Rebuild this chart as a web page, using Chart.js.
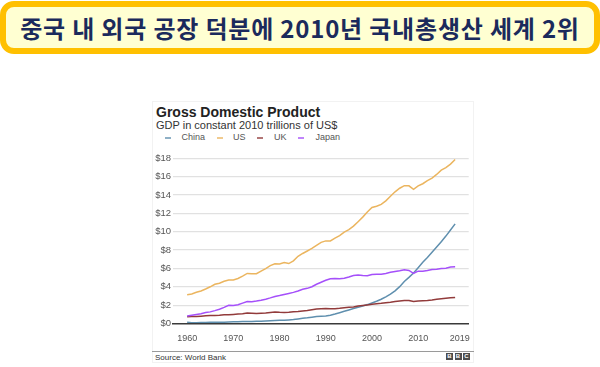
<!DOCTYPE html>
<html>
<head>
<meta charset="utf-8">
<script src="https://cdn.jsdelivr.net/npm/chart.js@4"></script>
<style>
  html, body { margin: 0; padding: 0; background: #fff; }
  body { width: 600px; height: 367px; position: relative; overflow: hidden; font-family: "Liberation Sans", Arial, sans-serif; }
  #banner { position: absolute; left: 0; top: 1px; width: 600px; height: 53px; box-sizing: border-box;
    border: 6px solid #FFC000; border-radius: 14px; background: #FFFFD2;
    display: flex; align-items: center; justify-content: center;
    font-family: "Noto Sans CJK KR", sans-serif; font-weight: 700; font-size: 24px; letter-spacing: 0.8px; color: #1b2a5c; white-space: nowrap; }
  #box { position: absolute; left: 152px; top: 101px; width: 322px; height: 262px; box-sizing: border-box; border: 1px solid #f2f2f2; }
  .t { position: absolute; white-space: nowrap; }
  #title { left: 156px; top: 104.6px; font-size: 14px; line-height: 14px; font-weight: 700; color: #222; }
  #subtitle { left: 156px; top: 119.7px; font-size: 11px; line-height: 11px; color: #333; }
  .lg { position: absolute; top: 132.9px; font-size: 9px; line-height: 9px; color: #555; white-space: nowrap; }
  .dash { position: absolute; top: 136.5px; width: 6px; height: 2px; }
  #sep { position: absolute; left: 152px; top: 351px; width: 322px; height: 1px; background: #9a9a9a; }
  #source { left: 155px; top: 353.7px; font-size: 8px; line-height: 8px; color: #333; }
  .bbc { position: absolute; top: 353px; width: 7px; height: 7px; background: #4d4d4d; color: #fff;
    font-size: 6px; line-height: 7px; font-weight: 700; text-align: center; }
  #wrap { position: absolute; left: 140px; top: 150px; width: 340px; height: 200px; }
</style>
</head>
<body>
<div id="banner">중국 내 외국 공장 덕분에 2010년 국내총생산 세계 2위</div>
<div id="box"></div>
<div class="t" id="title">Gross Domestic Product</div>
<div class="t" id="subtitle">GDP in constant 2010 trillions of US$</div>
<div id="legend"></div>
<div id="wrap"><canvas id="c" width="340" height="200"></canvas></div>
<div id="sep"></div>
<div class="t" id="source">Source: World Bank</div>
<div class="bbc" style="left:446px">B</div>
<div class="bbc" style="left:454.5px">B</div>
<div class="bbc" style="left:463px">C</div>
<script>
// ---- data (trillions of constant 2010 US$) ----
const years = [];
for (let y = 1960; y <= 2018; y++) years.push(y);

const china = [0.128,0.093,0.088,0.097,0.115,0.134,0.148,0.140,0.134,0.157,
  0.187,0.200,0.208,0.224,0.229,0.249,0.245,0.264,0.294,0.317,
  0.341,0.359,0.391,0.433,0.499,0.566,0.617,0.689,0.766,0.798,
  0.829,0.906,1.035,1.179,1.332,1.478,1.625,1.774,1.913,2.060,
  2.235,2.421,2.641,2.905,3.199,3.563,4.016,4.586,5.031,5.504,
  6.087,6.671,7.197,7.759,8.333,8.916,9.523,10.18,10.86];

const us = [3.13,3.21,3.40,3.55,3.76,4.00,4.27,4.38,4.60,4.74,
  4.75,4.91,5.17,5.46,5.43,5.42,5.71,5.98,6.31,6.51,
  6.49,6.65,6.53,6.83,7.32,7.63,7.90,8.18,8.52,8.84,
  9.00,8.99,9.31,9.57,9.95,10.22,10.61,11.09,11.59,12.14,
  12.64,12.77,12.98,13.36,13.87,14.35,14.74,15.02,15.00,14.62,
  14.99,15.23,15.57,15.85,16.24,16.71,16.98,17.37,17.86];

const uk = [0.732,0.752,0.760,0.797,0.842,0.860,0.873,0.898,0.947,0.965,
  0.991,1.026,1.070,1.139,1.111,1.094,1.126,1.154,1.201,1.246,
  1.219,1.211,1.235,1.287,1.316,1.372,1.414,1.489,1.574,1.615,
  1.626,1.608,1.615,1.655,1.720,1.763,1.807,1.896,1.956,2.019,
  2.089,2.144,2.195,2.268,2.322,2.394,2.454,2.513,2.500,2.395,
  2.441,2.477,2.514,2.567,2.633,2.697,2.748,2.800,2.837];

const japan = [0.810,0.907,0.988,1.072,1.197,1.266,1.401,1.556,1.757,1.976,
  1.956,2.048,2.220,2.398,2.369,2.442,2.540,2.652,2.792,2.946,
  3.040,3.168,3.276,3.390,3.543,3.727,3.831,4.007,4.280,4.490,
  4.710,4.870,4.909,4.884,4.928,5.061,5.218,5.275,5.217,5.201,
  5.347,5.368,5.373,5.454,5.574,5.669,5.748,5.846,5.782,5.470,
  5.700,5.694,5.779,5.895,5.916,5.991,6.022,6.155,6.174];

const xTicks = [1960, 1970, 1980, 1990, 2000, 2010, 2019];
const yTicks = [0, 2, 4, 6, 8, 10, 12, 14, 16, 18];

const seriesNames = ['China', 'US', 'UK', 'Japan'];
const seriesData = [china, us, uk, japan];
const seriesColors = ['#5f8fae', '#ebb55f', '#923b3b', '#a550fa'];

// ---- legend (HTML) ----
const legendPos = [[165, 181.5], [216.5, 233], [257, 274], [298, 315.5]];
const lg = document.getElementById('legend');
seriesNames.forEach((n, i) => {
  const d = document.createElement('div');
  d.className = 'dash';
  d.style.left = legendPos[i][0] + 'px';
  d.style.background = seriesColors[i];
  d.style.opacity = '0.7';
  lg.appendChild(d);
  const t = document.createElement('div');
  t.className = 'lg';
  t.style.left = legendPos[i][1] + 'px';
  t.textContent = n;
  lg.appendChild(t);
});

// ---- chart ----
const datasets = seriesNames.map((n, i) => ({
  label: n,
  data: years.map((y, k) => ({ x: y, y: seriesData[i][k] })),
  borderColor: seriesColors[i],
  backgroundColor: seriesColors[i],
  borderWidth: 1.5,
  pointRadius: 0,
  tension: 0,
  fill: false
}));
datasets.reverse();

new Chart(document.getElementById('c'), {
  type: 'line',
  data: { datasets },
  options: {
    responsive: false,
    animation: false,
    layout: { padding: { top: 8.3, right: 8, left: 0, bottom: 0 } },
    plugins: { legend: { display: false }, title: { display: false }, tooltip: { enabled: false } },
    scales: {
      x: {
        type: 'linear',
        min: 1956.94,
        max: 2020.94,
        afterBuildTicks: s => { s.ticks = xTicks.map(v => ({ value: v })); },
        afterFit: s => { s.height = 26.5; },
        grid: { display: false, drawTicks: false },
        border: { display: true, color: '#3a3a3a', width: 1.5, z: 1 },
        ticks: {
          padding: 10,
          autoSkip: false,
          maxRotation: 0,
          color: '#555',
          font: { family: '"Liberation Sans", Arial, sans-serif', size: 9 },
          callback: v => String(v)
        }
      },
      y: {
        min: 0,
        max: 18,
        afterBuildTicks: s => { s.ticks = yTicks.map(v => ({ value: v })); },
        afterFit: s => { s.width = 33; },
        grid: {
          drawTicks: false,
          lineWidth: 1.2,
          color: c => (c.tick && c.tick.value === 0) ? 'rgba(0,0,0,0)' : '#e1e1e1'
        },
        border: { display: false },
        ticks: {
          padding: 2,
          color: '#555',
          font: { family: '"Liberation Sans", Arial, sans-serif', size: 9.5 },
          callback: v => '$' + v
        }
      }
    }
  }
});
</script>
</body>
</html>
